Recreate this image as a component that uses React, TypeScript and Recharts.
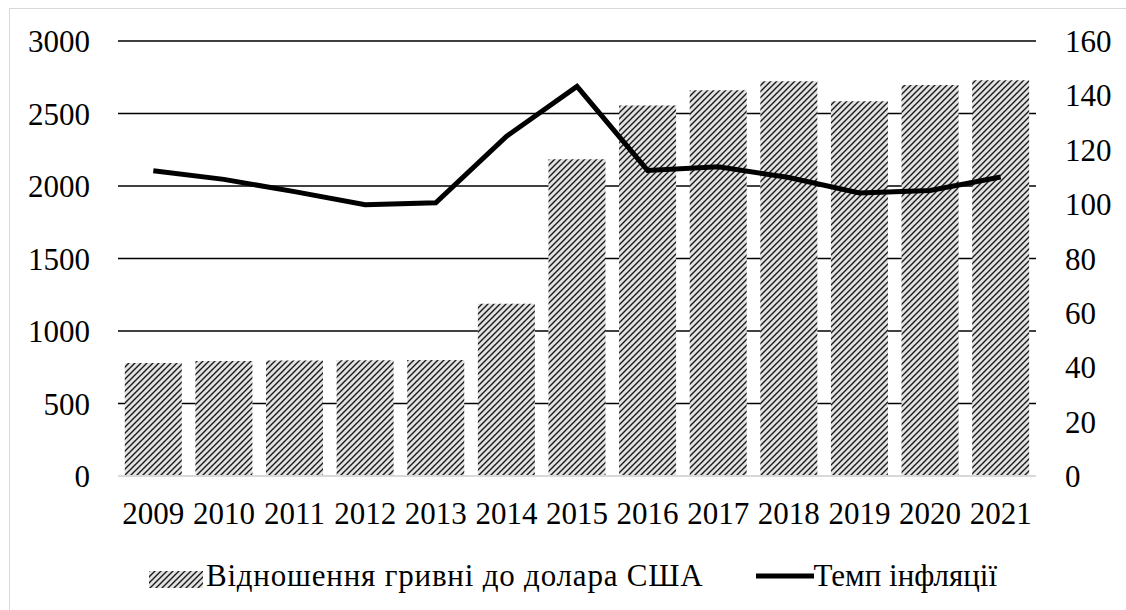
import {
  Bar,
  CartesianGrid,
  ComposedChart,
  Legend,
  Line,
  XAxis,
  YAxis,
} from "recharts";

const years = [
  "2009", "2010", "2011", "2012", "2013", "2014", "2015",
  "2016", "2017", "2018", "2019", "2020", "2021",
];
const hryvniaRate = [
  779.7, 793.6, 796.8, 799.1, 799.3, 1188.7, 2184.5,
  2555.1, 2659.7, 2721.6, 2584.6, 2696.8, 2728.6,
];
const inflation = [
  112.3, 109.1, 104.6, 99.8, 100.5, 124.9, 143.3,
  112.4, 113.7, 109.8, 104.1, 105.0, 110.0,
];
const leftTicks = [0, 500, 1000, 1500, 2000, 2500, 3000];
const rightTicks = [0, 20, 40, 60, 80, 100, 120, 140, 160];

const barLabel = "Відношення гривні до долара США";
const lineLabel = "Темп інфляції";

const data = years.map((year, i) => ({
  year,
  rate: hryvniaRate[i],
  infl: inflation[i],
}));

const font = "Liberation Serif, Times New Roman, DejaVu Serif, serif";
const tick = { fill: "#000", fontSize: 31, fontFamily: font };

function LegendBox() {
  return (
    <div
      style={{
        height: 44,
        display: "flex",
        alignItems: "center",
        justifyContent: "center",
        paddingLeft: 20,
        fontFamily: font,
        fontSize: 31,
        color: "#000",
      }}
    >
      <svg width={54} height={17} style={{ marginRight: 3, marginTop: 6 }}>
        <rect width={54} height={17} fill="url(#hatch)" />
      </svg>
      <span style={{ letterSpacing: 0.8 }}>{barLabel}</span>
      <svg width={58} height={8} style={{ marginLeft: 52 }}>
        <line x1={0} y1={4} x2={58} y2={4} stroke="#000" strokeWidth={5} />
      </svg>
      <span>{lineLabel}</span>
    </div>
  );
}

export default function App() {
  return (
    <div
      style={{
        position: "absolute",
        left: 0,
        top: 0,
        width: 1126,
        height: 610,
        background: "#fff",
        overflow: "hidden",
      }}
    >
      <div
        style={{
          position: "absolute",
          left: 9,
          top: 8,
          width: 1200,
          height: 700,
          borderLeft: "1.5px solid #d9d9d9",
          borderTop: "1.5px solid #d9d9d9",
        }}
      />
      <ComposedChart
        width={1126}
        height={610}
        data={data}
        margin={{ top: 41, right: 0, left: 0, bottom: 12 }}
        barCategoryGap="9.6%"
      >
        <defs>
          <pattern
            id="hatch"
            patternUnits="userSpaceOnUse"
            width={6}
            height={6}
          >
            <rect width={6} height={6} fill="#e2e2e2" />
            <path
              d="M-1.5,1.5 l3,-3 M0,6 l6,-6 M4.5,7.5 l3,-3"
              stroke="#1a1a1a"
              strokeWidth={1.4}
            />
          </pattern>
        </defs>
        <CartesianGrid
          yAxisId="left"
          vertical={false}
          stroke="#000"
          strokeWidth={1.5}
        />
        <XAxis
          dataKey="year"
          height={78}
          tick={tick}
          tickSize={0}
          tickMargin={26}
          axisLine={{ stroke: "#d9d9d9", strokeWidth: 2 }}
          tickLine={false}
        />
        <YAxis
          yAxisId="left"
          width={118}
          domain={[0, 3000]}
          ticks={leftTicks}
          tick={tick}
          tickSize={0}
          tickMargin={28}
          axisLine={false}
          tickLine={false}
        />
        <YAxis
          yAxisId="right"
          orientation="right"
          width={90}
          domain={[0, 160]}
          ticks={rightTicks}
          tick={{ ...tick, textAnchor: "start" }}
          tickSize={0}
          tickMargin={29}
          axisLine={false}
          tickLine={false}
        />
        <Legend verticalAlign="bottom" content={() => <LegendBox />} />
        <Bar
          yAxisId="left"
          dataKey="rate"
          name={barLabel}
          fill="url(#hatch)"
          isAnimationActive={false}
        />
        <Line
          yAxisId="right"
          type="linear"
          dataKey="infl"
          name={lineLabel}
          stroke="#000"
          strokeWidth={5}
          dot={false}
          isAnimationActive={false}
        />
      </ComposedChart>
    </div>
  );
}
